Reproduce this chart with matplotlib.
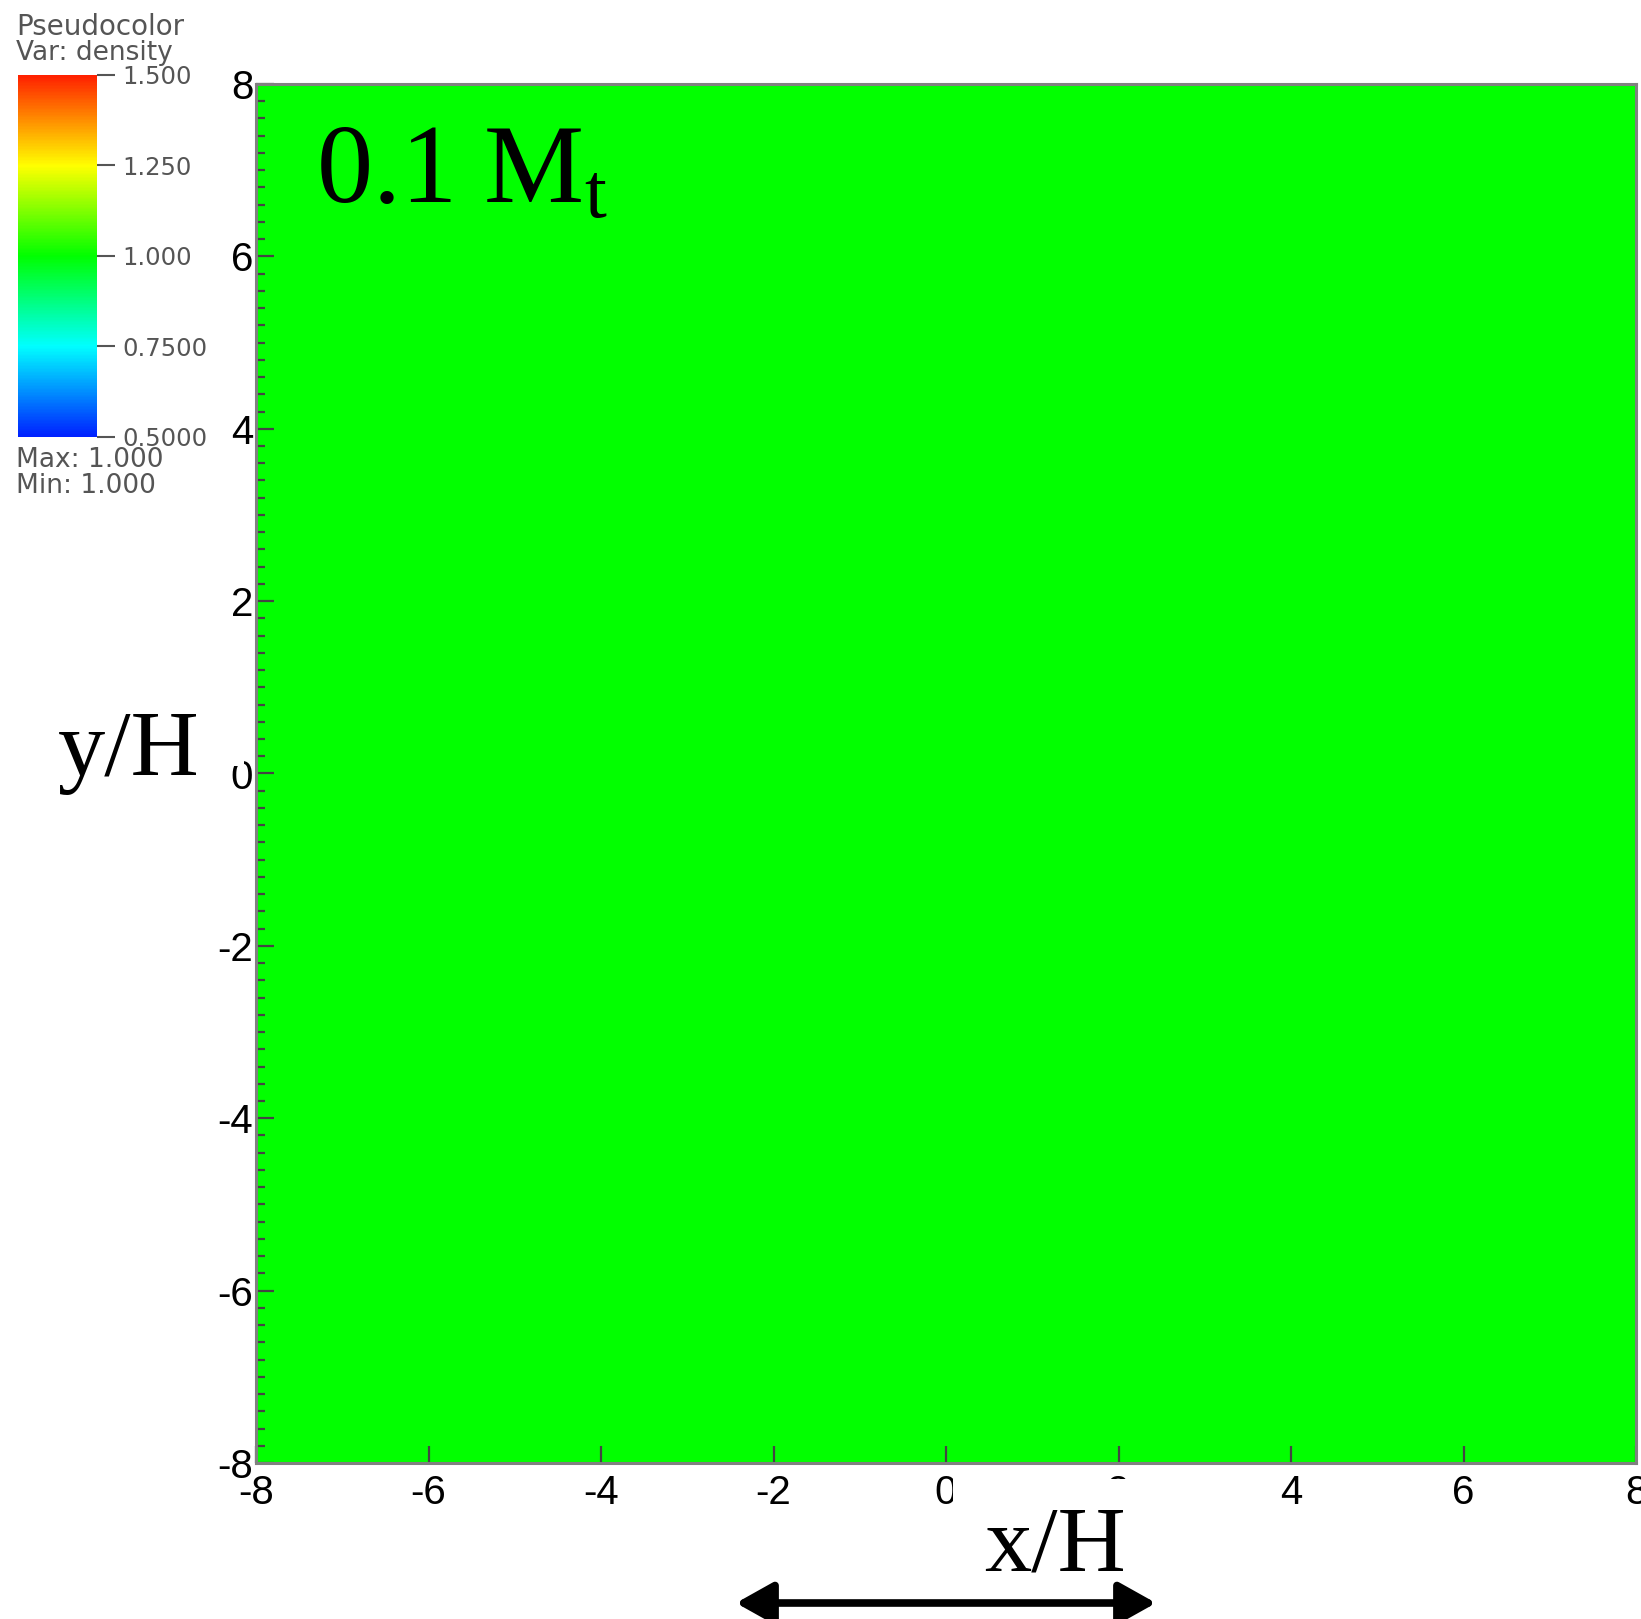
import numpy as np
import matplotlib
matplotlib.use('Agg')
import matplotlib.pyplot as plt
from matplotlib.colors import LinearSegmentedColormap
from matplotlib.patches import Rectangle, FancyArrowPatch
from matplotlib.ticker import MultipleLocator

# ---------------- data ----------------
x_range = [-8, 8]
y_range = [-8, 8]
density = np.full((32, 32), 1.0)          # uniform field: Max = Min = 1.000
vmin, vmax = 0.5, 1.5
cbar_ticks = [0.5, 0.75, 1.0, 1.25, 1.5]
cbar_ticklabels = ['0.5000', '0.7500', '1.000', '1.250', '1.500']
x_ticks = [-8, -6, -4, -2, 0, 2, 4, 6, 8]
y_ticks = [-8, -6, -4, -2, 0, 2, 4, 6, 8]
x_ticklabels = [str(v) for v in x_ticks]
y_ticklabels = [str(v) for v in y_ticks]
hot_colors = ['#0020ff', '#00ffff', '#00ff00', '#ffff00', '#ff2000']
legend_title = 'Pseudocolor'
legend_var = 'Var: density'
legend_max = 'Max: 1.000'
legend_min = 'Min: 1.000'
panel_label = r'$\mathrm{0.1\ M_t}$'
x_label = 'x/H'
y_label = 'y/H'

# ---------------- style ----------------
plt.rcParams['font.family'] = ['Liberation Sans', 'DejaVu Sans']
plt.rcParams['mathtext.fontset'] = 'custom'
plt.rcParams['mathtext.rm'] = 'Liberation Serif'
plt.rcParams['mathtext.it'] = 'Liberation Serif:italic'

W, H = 1641, 1619
fig = plt.figure(figsize=(W / 100, H / 100), dpi=100)

cmap = LinearSegmentedColormap.from_list('visit_hot', hot_colors)

# main axes
ax = fig.add_axes([256 / W, 1 - 1463 / H, 1380 / W, 1379 / H])
im = ax.imshow(density, cmap=cmap, vmin=vmin, vmax=vmax,
               extent=(x_range[0], x_range[1], y_range[0], y_range[1]),
               origin='lower', aspect='auto', interpolation='nearest')
ax.set_xlim(*x_range)
ax.set_ylim(*y_range)
ax.set_xticks(x_ticks)
ax.set_xticklabels(x_ticklabels)
ax.set_yticks(y_ticks)
ax.set_yticklabels(y_ticklabels)
ax.yaxis.set_minor_locator(MultipleLocator(0.2))
ax.tick_params(axis='y', which='major', direction='in', length=13, width=1.6,
               color='#444444', pad=2, labelsize=29)
ax.tick_params(axis='y', which='minor', direction='in', length=6.5, width=1.6,
               color='#444444')
ax.tick_params(axis='x', which='major', direction='in', length=12, width=1.6,
               color='#444444', pad=8, labelsize=29)
for s in ax.spines.values():
    s.set_color('#808080')
    s.set_linewidth(2.2)

# panel label
ax.text(0.0435, 0.914, panel_label, transform=ax.transAxes, fontsize=81,
        color='black', ha='left', va='baseline')

# colorbar
cax = fig.add_axes([18 / W, 1 - 437 / H, 79 / W, 362 / H])
cb = fig.colorbar(im, cax=cax, ticks=cbar_ticks)
cb.set_ticklabels(cbar_ticklabels)
cb.outline.set_visible(False)
cax.tick_params(length=13, width=1.5, color='#555555', pad=5.5,
                labelsize=17.5, labelcolor='#555555')
for t in cax.get_yticklabels():
    t.set_family('DejaVu Sans')

leg_kw = dict(color='#555555', family='DejaVu Sans', ha='left', va='baseline')
fig.text(16 / W, 1 - 35 / H, legend_title, fontsize=20, **leg_kw)
fig.text(16 / W, 1 - 60 / H, legend_var, fontsize=19, **leg_kw)
fig.text(16 / W, 1 - 467 / H, legend_max, fontsize=19, **leg_kw)
fig.text(16 / W, 1 - 493 / H, legend_min, fontsize=19, **leg_kw)

# white boxes behind axis labels (they hide parts of some tick labels)
fig.add_artist(Rectangle((953 / W, 1 - 1590 / H), 185 / W, 111 / H,
                         transform=fig.transFigure, facecolor='white',
                         edgecolor='none', zorder=5))
fig.add_artist(Rectangle((50 / W, 1 - 766 / H), 194 / W, 73 / H,
                         transform=fig.transFigure, facecolor='white',
                         edgecolor='none', zorder=5))

fig.text(984 / W, 1 - 1570 / H, x_label, fontsize=68, family='Liberation Serif',
         ha='left', va='baseline', zorder=6)
fig.text(58 / W, 1 - 775 / H, y_label, fontsize=68, family='Liberation Serif',
         ha='left', va='baseline', zorder=6)

# double-headed arrow
arrow = FancyArrowPatch((736 / W, 1 - 1603 / H), (1156 / W, 1 - 1603 / H),
                        transform=fig.transFigure,
                        arrowstyle='<|-|>,head_length=0.75,head_width=0.42',
                        mutation_scale=30, linewidth=5.5, color='black',
                        shrinkA=0, shrinkB=0, zorder=6)
fig.add_artist(arrow)

fig.savefig('out.png', dpi=100)
